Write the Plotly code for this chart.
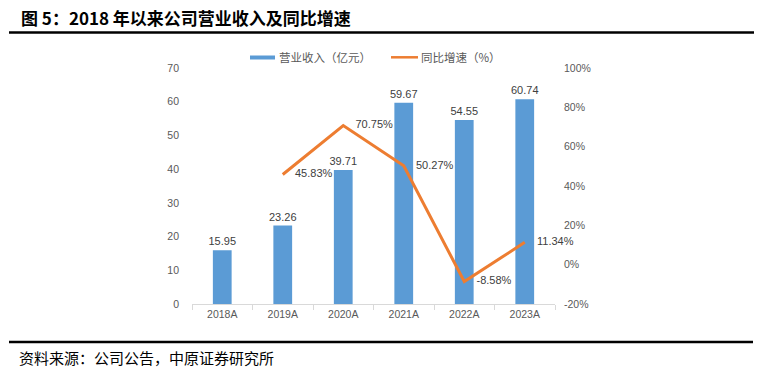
import plotly.graph_objects as go

categories = ["2018A", "2019A", "2020A", "2021A", "2022A", "2023A"]
revenue = [15.95, 23.26, 39.71, 59.67, 54.55, 60.74]
growth = [None, 45.83, 70.75, 50.27, -8.58, 11.34]
revenue_labels = ["15.95", "23.26", "39.71", "59.67", "54.55", "60.74"]
growth_labels = ["", "45.83%", "70.75%", "50.27%", "-8.58%", "11.34%"]
left_ticks = [0, 10, 20, 30, 40, 50, 60, 70]
right_ticks = [-20, 0, 20, 40, 60, 80, 100]
right_tick_text = ["-20%", "0%", "20%", "40%", "60%", "80%", "100%"]

W, H = 784, 370
L, R, T, B = 192, 555, 68, 304

def px(x):
    return (x - L) / (R - L)

def py(y):
    return (B - y) / (B - T)

FONT = "Liberation Sans, Arial, Noto Sans CJK SC"
CJK = "Noto Sans CJK SC, Liberation Sans"
GRAY = "#595959"

fig = go.Figure()
fig.add_trace(go.Bar(
    x=categories, y=revenue, name="营业收入（亿元）",
    marker=dict(color="#5B9BD5", line=dict(width=0)),
    text=revenue_labels, textposition="outside", constraintext="none",
    textfont=dict(size=11, color="#404040", family=FONT),
    cliponaxis=False, yaxis="y",
))
fig.add_trace(go.Scatter(
    x=categories, y=growth, name="同比增速（%）",
    mode="lines+markers+text", line=dict(color="#ED7D31", width=3),
    marker=dict(size=18, color="rgba(0,0,0,0)", line=dict(width=0)),
    text=growth_labels, textposition="middle right",
    textfont=dict(size=11, color="#404040", family=FONT),
    cliponaxis=False, yaxis="y2",
))

fig.update_layout(
    width=W, height=H,
    margin=dict(l=L, r=W - R, t=T, b=H - B, pad=0),
    paper_bgcolor="white", plot_bgcolor="white",
    showlegend=False,
    bargap=0.69,
    font=dict(family=FONT, size=10, color=GRAY),
    xaxis=dict(
        type="category", showline=True, linecolor="#D9D9D9", linewidth=1,
        ticks="outside", tickson="boundaries", ticklen=5, tickcolor="#D9D9D9",
        showgrid=False, tickfont=dict(size=10.5, color=GRAY),
    ),
    yaxis=dict(
        range=[0, 70], tickvals=left_ticks, showgrid=False, zeroline=False,
        showline=False, ticks="", tickfont=dict(size=10.5, color=GRAY),
        ticklabelstandoff=12,
    ),
    yaxis2=dict(
        range=[-20, 100], tickvals=right_ticks, ticktext=right_tick_text,
        overlaying="y", side="right", showgrid=False, zeroline=False,
        showline=False, ticks="", tickfont=dict(size=10.5, color=GRAY),
        ticklabelstandoff=8,
    ),
)

shapes = [
    dict(type="line", xref="paper", yref="paper", x0=px(9), x1=px(754),
         y0=py(32.5), y1=py(32.5), line=dict(color="black", width=2.5)),
    dict(type="line", xref="paper", yref="paper", x0=px(9), x1=px(753),
         y0=py(342), y1=py(342), line=dict(color="black", width=2.5)),
    dict(type="rect", xref="paper", yref="paper", x0=px(250), x1=px(275),
         y0=py(59.5), y1=py(55.5), fillcolor="#5B9BD5", line=dict(width=0)),
    dict(type="line", xref="paper", yref="paper", x0=px(391), x1=px(418),
         y0=py(57.3), y1=py(57.3), line=dict(color="#ED7D31", width=2.5)),
]
fig.update_layout(shapes=shapes)

annotations = [
    dict(text="<b>图 5：2018 年以来公司营业收入及同比增速</b>", x=px(19), y=py(18),
         xref="paper", yref="paper", xanchor="left", yanchor="middle",
         showarrow=False, font=dict(family=CJK, size=17, color="black")),
    dict(text="资料来源：公司公告，中原证券研究所", x=px(17), y=py(357),
         xref="paper", yref="paper", xanchor="left", yanchor="middle",
         showarrow=False, font=dict(family=CJK, size=15, color="black")),
    dict(text="营业收入（亿元）", x=px(277), y=py(57),
         xref="paper", yref="paper", xanchor="left", yanchor="middle",
         showarrow=False, font=dict(family=CJK, size=11.5, color=GRAY)),
    dict(text="同比增速（%）", x=px(419), y=py(57),
         xref="paper", yref="paper", xanchor="left", yanchor="middle",
         showarrow=False, font=dict(family=CJK, size=11.5, color=GRAY)),
]
fig.update_layout(annotations=annotations)

fig.write_html("out.html", config={"displayModeBar": False},
               post_script="document.body.style.margin='0';")
